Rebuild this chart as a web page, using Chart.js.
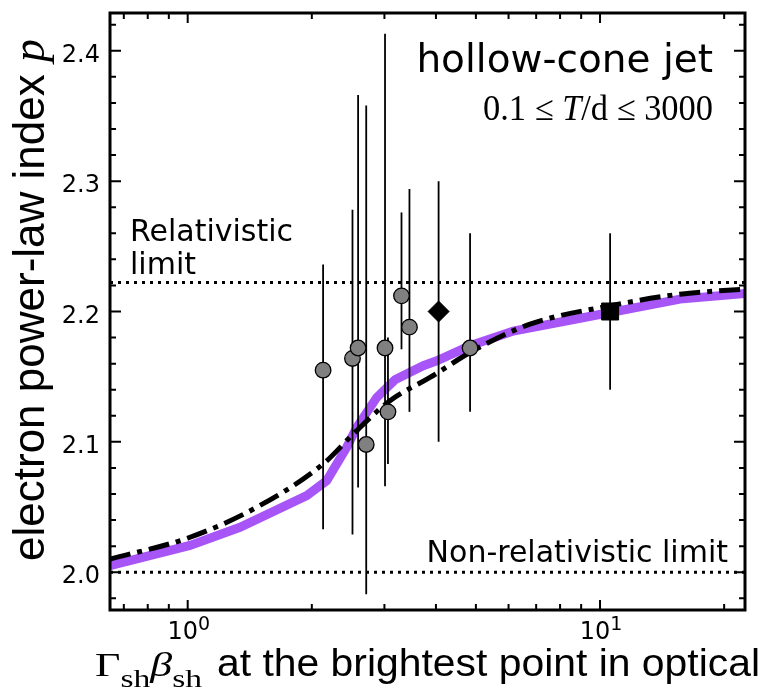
<!DOCTYPE html>
<html>
<head>
<meta charset="utf-8">
<script src="https://cdn.jsdelivr.net/npm/chart.js@4.4.1/dist/chart.umd.min.js"></script>
<style>
  html, body { margin: 0; padding: 0; background: #fff; }
  #wrap { width: 769px; height: 692px; }
</style>
</head>
<body>
<div id="wrap"><canvas id="pChart"></canvas></div>
<script>
// axis limits
const xMin = 0.648, xMax = 22.47;
const yMin = 1.971, yMax = 2.429;

// bursts (grey circles) and their p ranges
const grbX  = [2.13, 2.51, 2.59, 2.71, 3.01, 3.06, 3.30, 3.45, 4.84];
const grbP  = [2.155, 2.164, 2.172, 2.098, 2.172, 2.123, 2.212, 2.188, 2.172];
const grbLo = [2.033, 2.029, 2.065, 1.983, 2.066, 2.083, 2.171, 2.123, 2.123];
const grbHi = [2.236, 2.278, 2.366, 2.358, 2.413, 2.180, 2.276, 2.294, 2.260];

const diamondX = [4.06],  diamondP = [2.20], diamondLo = [2.10], diamondHi = [2.30];
const squareX  = [10.58], squareP  = [2.20], squareLo  = [2.14], squareHi  = [2.26];

// hollow-cone jet model (thick purple)
const hollowX = [0.648, 1.013, 1.339, 1.944, 2.174, 2.43, 2.57, 2.873, 3.183, 3.727, 4.018, 4.838, 6.163, 10.58, 15.63, 22.47];
const hollowP = [2.005, 2.0205, 2.0345, 2.0588, 2.0703, 2.0958, 2.111, 2.134, 2.1477, 2.1584, 2.1622, 2.1737, 2.185, 2.1992, 2.2095, 2.2138];

// analytic fit (dash-dot)
const fitX = [0.648, 1.013, 1.470, 2.132, 2.52, 3.095, 3.870, 4.928, 6.765, 10.58, 15.63, 22.47];
const fitP = [2.010, 2.0268, 2.0498, 2.0831, 2.106, 2.1316, 2.1494, 2.170, 2.1903, 2.2044, 2.2133, 2.2172];

// limits
const pRel = 2.2222, pNonRel = 2.0;

// ticks
const yMajor = [2.0, 2.1, 2.2, 2.3, 2.4];
const xMajor = [1, 10];
const xMinor = [0.7, 0.8, 0.9, 2, 3, 4, 5, 6, 7, 8, 9, 20];

const pts = (xs, ys) => xs.map((x, i) => ({ x: x, y: ys[i] }));

// draw a list of text runs, optionally stretched to a given width
function drawRuns(ctx, runs, x, y, align, fitW) {
  let w = 0;
  runs.forEach(r => { ctx.font = r.font; w += ctx.measureText(r.t).width; });
  const sx = fitW ? fitW / w : 1;
  const total = w * sx;
  const start = align === 'right' ? x - total : align === 'center' ? x - total / 2 : x;
  ctx.save();
  ctx.translate(start, y);
  ctx.scale(sx, 1);
  ctx.textAlign = 'left';
  ctx.textBaseline = 'alphabetic';
  let cx = 0;
  runs.forEach(r => {
    ctx.font = r.font;
    ctx.fillText(r.t, cx, r.dy || 0);
    cx += ctx.measureText(r.t).width;
  });
  ctx.restore();
}

// error bars, drawn between the curves and the markers
const errorBars = {
  id: 'errorBars',
  afterDatasetDraw(chart, args) {
    if (args.index !== 3) return;
    const { ctx, chartArea: a, scales: { x, y } } = chart;
    const sets = [[grbX, grbLo, grbHi], [diamondX, diamondLo, diamondHi], [squareX, squareLo, squareHi]];
    ctx.save();
    ctx.beginPath();
    ctx.rect(a.left, a.top, a.right - a.left, a.bottom - a.top);
    ctx.clip();
    ctx.strokeStyle = '#000';
    ctx.lineWidth = 1.8;
    sets.forEach(([xs, lo, hi]) => {
      xs.forEach((v, i) => {
        const px = x.getPixelForValue(v);
        ctx.beginPath();
        ctx.moveTo(px, y.getPixelForValue(lo[i]));
        ctx.lineTo(px, y.getPixelForValue(hi[i]));
        ctx.stroke();
      });
    });
    ctx.restore();
  }
};

// frame, inward ticks, labels and annotations
const frame = {
  id: 'frame',
  afterDraw(chart) {
    const { ctx, chartArea: a, scales: { x, y } } = chart;
    ctx.save();
    ctx.strokeStyle = '#000';
    ctx.fillStyle = '#000';

    ctx.lineWidth = 2;
    const yTick = (v, len) => {
      const py = y.getPixelForValue(v);
      ctx.beginPath();
      ctx.moveTo(a.left, py); ctx.lineTo(a.left + len, py);
      ctx.moveTo(a.right, py); ctx.lineTo(a.right - len, py);
      ctx.stroke();
    };
    const xTick = (v, len) => {
      const px = x.getPixelForValue(v);
      ctx.beginPath();
      ctx.moveTo(px, a.bottom); ctx.lineTo(px, a.bottom - len);
      ctx.moveTo(px, a.top); ctx.lineTo(px, a.top + len);
      ctx.stroke();
    };
    for (let k = 99; k <= 121; k++) {
      const v = k / 50;
      if (v > yMin && v < yMax && k % 5 !== 0) yTick(v, 6);
    }
    yMajor.forEach(v => yTick(v, 11));
    xMinor.forEach(v => xTick(v, 6));
    xMajor.forEach(v => xTick(v, 10));

    ctx.lineWidth = 3;
    ctx.strokeRect(a.left, a.top, a.right - a.left, a.bottom - a.top);

    // tick labels
    ctx.font = '24px "DejaVu Sans"';
    ctx.textAlign = 'right';
    ctx.textBaseline = 'alphabetic';
    yMajor.forEach(v => ctx.fillText(v.toFixed(1), a.left - 10, y.getPixelForValue(v) + 11));
    xMajor.forEach(v => {
      const e = Math.round(Math.log10(v)).toString();
      drawRuns(ctx, [
        { t: '10', font: '24px "DejaVu Sans"' },
        { t: e, font: '19px "DejaVu Sans"', dy: -9 }
      ], x.getPixelForValue(v) + 1, a.bottom + 29, 'center');
    });

    // axis titles
    drawRuns(ctx, [
      { t: 'Γ', font: '34px "Liberation Serif"' },
      { t: 'sh', font: '26px "Liberation Serif"', dy: 11 },
      { t: 'β', font: 'italic 34px "Liberation Serif"' },
      { t: 'sh', font: '26px "Liberation Serif"', dy: 11 }
    ], 95, 676, 'left', 107);
    drawRuns(ctx, [
      { t: 'at the brightest point in optical', font: '38px "Liberation Sans"' }
    ], 217, 676, 'left', 543);

    ctx.save();
    ctx.translate(44, 300);
    ctx.rotate(-Math.PI / 2);
    drawRuns(ctx, [
      { t: 'electron power-law index ', font: '44px "Liberation Sans"' },
      { t: 'p', font: 'italic 46px "Liberation Serif"' }
    ], 0, 0, 'center');
    ctx.restore();

    // annotations
    drawRuns(ctx, [{ t: 'hollow-cone jet', font: '39px "DejaVu Sans"' }], 713, 72, 'right');
    const sf = '35px "Liberation Serif"';
    drawRuns(ctx, [
      { t: '0.1 ≤ ', font: sf },
      { t: 'T', font: 'italic ' + sf },
      { t: '/d ≤ 3000', font: sf }
    ], 713, 120, 'right', 230);

    ctx.font = '30px "DejaVu Sans"';
    ctx.textAlign = 'left';
    ctx.fillText('Relativistic', 130, 241);
    ctx.fillText('limit', 130, 274);
    ctx.textAlign = 'right';
    ctx.fillText('Non-relativistic limit', 728, 562);
    ctx.restore();
  }
};

new Chart(document.getElementById('pChart'), {
  type: 'scatter',
  data: {
    datasets: [
      {
        data: pts(grbX, grbP), order: 0,
        pointStyle: 'circle', pointRadius: 7.8,
        backgroundColor: '#808080', borderColor: '#000', borderWidth: 1.3
      },
      {
        data: pts(diamondX, diamondP), order: 0,
        pointStyle: 'rectRot', pointRadius: 10.5,
        backgroundColor: '#000', borderColor: '#000', borderWidth: 1
      },
      {
        data: pts(squareX, squareP), order: 0,
        pointStyle: 'rect', pointRadius: 12,
        backgroundColor: '#000', borderColor: '#000', borderWidth: 1
      },
      {
        data: pts(fitX, fitP), order: 1, showLine: true, pointRadius: 0,
        borderColor: '#000', borderWidth: 5, borderDash: [21, 7, 5, 7],
        cubicInterpolationMode: 'monotone'
      },
      {
        data: pts(hollowX, hollowP), order: 2, showLine: true, pointRadius: 0,
        borderColor: '#a855f7', borderWidth: 9, tension: 0
      },
      {
        data: pts([xMin, xMax], [pRel, pRel]), order: 3, showLine: true, pointRadius: 0,
        borderColor: '#000', borderWidth: 3, borderDash: [3, 5]
      },
      {
        data: pts([xMin, xMax], [pNonRel, pNonRel]), order: 3, showLine: true, pointRadius: 0,
        borderColor: '#000', borderWidth: 3, borderDash: [3, 5]
      }
    ]
  },
  options: {
    responsive: true,
    maintainAspectRatio: false,
    animation: false,
    events: [],
    layout: { padding: { left: 110, right: 24, top: 12, bottom: 82 } },
    plugins: { legend: { display: false }, tooltip: { enabled: false } },
    scales: {
      x: { type: 'logarithmic', min: xMin, max: xMax, bounds: 'data', display: false },
      y: { type: 'linear', min: yMin, max: yMax, bounds: 'data', display: false }
    }
  },
  plugins: [errorBars, frame]
});
</script>
</body>
</html>
